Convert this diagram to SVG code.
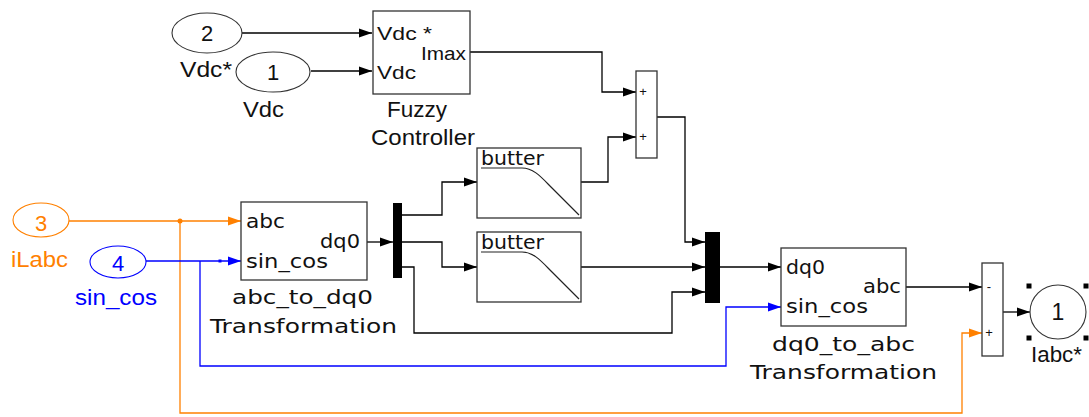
<svg xmlns="http://www.w3.org/2000/svg" width="1089" height="417" viewBox="0 0 1089 417">
<defs>
<marker id="ab" markerUnits="userSpaceOnUse" markerWidth="13" markerHeight="10" refX="13" refY="5" orient="auto"><path d="M0,0.5 L13,5 L0,9.5 z" fill="#000"/></marker>
<marker id="ao" markerUnits="userSpaceOnUse" markerWidth="13" markerHeight="10" refX="13" refY="5" orient="auto"><path d="M0,0.5 L13,5 L0,9.5 z" fill="#ff8000"/></marker>
<marker id="au" markerUnits="userSpaceOnUse" markerWidth="13" markerHeight="10" refX="13" refY="5" orient="auto"><path d="M0,0.5 L13,5 L0,9.5 z" fill="#0000ff"/></marker>
</defs>
<style>
.blk{fill:#fff;stroke:#333;stroke-width:1.3}
.bar{fill:#000;stroke:none}
.port{fill:#fff;stroke:#333;stroke-width:1.1}
.w{fill:none;stroke:#000;stroke-width:1.3}
.o{fill:none;stroke:#ff8000;stroke-width:1.3}
.u{fill:none;stroke:#0000ff;stroke-width:1.3}
.ar{font-family:"Liberation Sans",Arial,sans-serif;font-size:22px;fill:#111}
.ar18{font-family:"Liberation Sans",Arial,sans-serif;font-size:18px;fill:#111}
.tb{font-family:"DejaVu Sans",Verdana,sans-serif;font-size:19px;fill:#111}
.lb{font-family:"DejaVu Sans",Verdana,sans-serif;font-size:20px;fill:#111}
.sg{font-family:"Liberation Sans",Arial,sans-serif;font-size:13px;fill:#111;text-anchor:middle}
.mid{text-anchor:middle}
</style>

<g id="connectors">
<path class="w" d="M242,33 H372" marker-end="url(#ab)"/>
<path class="w" d="M311,71 H372" marker-end="url(#ab)"/>
<path class="w" d="M470,52 H602 V92 H636" marker-end="url(#ab)"/>
<path class="w" d="M581,182 H608 V137 H636" marker-end="url(#ab)"/>
<path class="w" d="M657,117 H685 V242 H705" marker-end="url(#ab)"/>
<path class="w" d="M402,215 H442 V182 H477" marker-end="url(#ab)"/>
<path class="w" d="M402,242 H442 V267 H477" marker-end="url(#ab)"/>
<path class="w" d="M402,267 H414 V333 H672 V292 H705" marker-end="url(#ab)"/>
<path class="w" d="M581,267 H705" marker-end="url(#ab)"/>
<path class="w" d="M367,242 H393" marker-end="url(#ab)"/>
<path class="w" d="M720,267 H781" marker-end="url(#ab)"/>
<path class="w" d="M906,287 H982" marker-end="url(#ab)"/>
<path class="w" d="M1003,312 H1030" marker-end="url(#ab)"/>
<path class="o" d="M69,221 H241" marker-end="url(#ao)"/>
<path class="o" d="M180,221 V413 H962 V333 H982" marker-end="url(#ao)"/>
<circle cx="180" cy="221" r="2.5" fill="#ff8000"/>
<path class="u" d="M146,261 H241" marker-end="url(#au)"/>
<path class="u" d="M200,261 V366 H726 V307 H781" marker-end="url(#au)"/>
<rect x="218.5" y="259.5" width="3" height="3" fill="#0000ff"/>
</g>

<g id="in2">
<ellipse class="port" cx="207" cy="33" rx="35" ry="20"/>
<text class="ar mid" x="207" y="41">2</text>
<text class="ar" x="180" y="77" textLength="52" lengthAdjust="spacingAndGlyphs">Vdc*</text>
</g>
<g id="in1">
<ellipse class="port" cx="273" cy="72" rx="37" ry="20"/>
<text class="ar mid" x="273" y="80">1</text>
<text class="ar" x="243" y="117" textLength="41" lengthAdjust="spacingAndGlyphs">Vdc</text>
</g>
<g id="fuzzy">
<rect class="blk" x="373" y="11" width="97" height="83"/>
<text class="ar18" x="377" y="40" textLength="55" lengthAdjust="spacingAndGlyphs">Vdc *</text>
<text class="ar18" x="421" y="60" textLength="45" lengthAdjust="spacingAndGlyphs">Imax</text>
<text class="ar18" x="377" y="79" textLength="39" lengthAdjust="spacingAndGlyphs">Vdc</text>
<text class="ar" x="387" y="117" textLength="60" lengthAdjust="spacingAndGlyphs">Fuzzy</text>
<text class="ar" x="371" y="145" textLength="104" lengthAdjust="spacingAndGlyphs">Controller</text>
</g>
<g id="sum1">
<rect class="blk" x="636" y="71" width="21" height="87"/>
<text class="sg" x="643" y="96">+</text>
<text class="sg" x="643" y="141">+</text>
</g>
<g id="in3">
<ellipse cx="41" cy="220" rx="28" ry="17" fill="#fff" stroke="#ff8000" stroke-width="1.1"/>
<text class="ar mid" x="41" y="231" style="fill:#ff8000">3</text>
<text class="ar" x="11" y="267" textLength="57" lengthAdjust="spacingAndGlyphs" style="fill:#ff8000">iLabc</text>
</g>
<g id="in4">
<ellipse cx="118" cy="262" rx="28" ry="16" fill="#fff" stroke="#0000ff" stroke-width="1.1"/>
<text class="ar mid" x="118" y="271" style="fill:#0000ff">4</text>
<text class="ar" x="75" y="305" textLength="82" lengthAdjust="spacingAndGlyphs" style="fill:#0000ff">sin_cos</text>
</g>
<g id="abc_to_dq0">
<rect class="blk" x="241" y="202" width="126" height="78"/>
<text class="tb" x="246" y="228" textLength="39" lengthAdjust="spacingAndGlyphs">abc</text>
<text class="tb" x="246" y="268" textLength="82" lengthAdjust="spacingAndGlyphs">sin_cos</text>
<text class="tb" x="320" y="248" textLength="40" lengthAdjust="spacingAndGlyphs">dq0</text>
<text class="lb" x="232" y="304" textLength="141" lengthAdjust="spacingAndGlyphs">abc_to_dq0</text>
<text class="lb" x="210" y="333" textLength="187" lengthAdjust="spacingAndGlyphs">Transformation</text>
</g>
<g id="demux">
<rect class="bar" x="393" y="203" width="9" height="75"/>
</g>
<g id="butter1">
<rect class="blk" x="477" y="148" width="104" height="70"/>
<text class="lb" x="481" y="165" textLength="63" lengthAdjust="spacingAndGlyphs">butter</text>
<path d="M481,168 H522 C534,168 542,178 552,188 L579,215" fill="none" stroke="#222" stroke-width="1.2"/>
</g>
<g id="butter2">
<rect class="blk" x="477" y="232" width="104" height="70"/>
<text class="lb" x="481" y="249" textLength="63" lengthAdjust="spacingAndGlyphs">butter</text>
<path d="M481,252 H522 C534,252 542,262 552,272 L579,299" fill="none" stroke="#222" stroke-width="1.2"/>
</g>
<g id="mux">
<rect class="bar" x="705" y="232" width="15" height="71"/>
</g>
<g id="dq0_to_abc">
<rect class="blk" x="781" y="248" width="125" height="78"/>
<text class="tb" x="786" y="274" textLength="39" lengthAdjust="spacingAndGlyphs">dq0</text>
<text class="tb" x="786" y="313" textLength="82" lengthAdjust="spacingAndGlyphs">sin_cos</text>
<text class="tb" x="863" y="293" textLength="38" lengthAdjust="spacingAndGlyphs">abc</text>
<text class="lb" x="772" y="351" textLength="143" lengthAdjust="spacingAndGlyphs">dq0_to_abc</text>
<text class="lb" x="750" y="379" textLength="187" lengthAdjust="spacingAndGlyphs">Transformation</text>
</g>
<g id="sum2">
<rect class="blk" x="982" y="263" width="21" height="93"/>
<text class="sg" x="989" y="291">-</text>
<text class="sg" x="989" y="337">+</text>
</g>
<g id="out1">
<ellipse class="port" cx="1058" cy="312" rx="28" ry="27"/>
<text class="ar mid" x="1058" y="320" style="font-size:23px">1</text>
<rect x="1026.5" y="283.5" width="5" height="5" fill="#000"/>
<rect x="1083.5" y="283.5" width="5" height="5" fill="#000"/>
<rect x="1026.5" y="335.5" width="5" height="5" fill="#000"/>
<rect x="1083.5" y="335.5" width="5" height="5" fill="#000"/>
<text class="ar" x="1031" y="362" textLength="51" lengthAdjust="spacingAndGlyphs">Iabc*</text>
</g>
</svg>
